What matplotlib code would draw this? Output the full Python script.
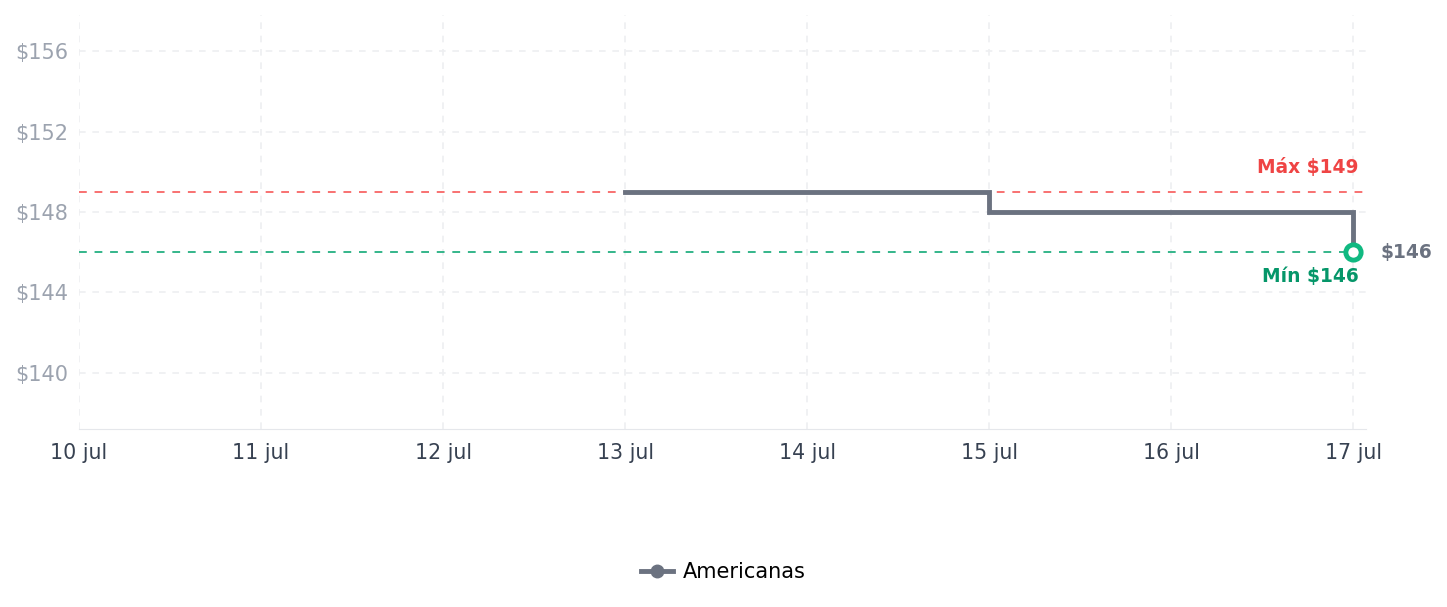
import numpy as np
import matplotlib.pyplot as plt

# datos
dias = ["10 jul", "11 jul", "12 jul", "13 jul", "14 jul", "15 jul", "16 jul", "17 jul"]
serie_x = [3, 5, 7]          # indice de dia
serie_precio = [149, 148, 146]
precio_max = 149
precio_min = 146
yticks = [140, 144, 148, 152, 156]

gris = "#6b7280"
rojo = "#ef4444"
verde = "#059669"

fig = plt.figure(figsize=(14.47, 6.07), dpi=100)
ax = fig.add_axes([79/1447, 1-429/607, (1366-79)/1447, (429-15)/607])

# lineas max / min
ax.axhline(precio_max, color="#f87171", lw=1.4, ls=(0, (4, 4)), zorder=2)
ax.axhline(precio_min, color="#34b58a", lw=1.4, ls=(0, (4, 4)), zorder=2)

# serie
ax.plot(serie_x, serie_precio, drawstyle="steps-post", color=gris, lw=3.5,
        solid_joinstyle="miter", zorder=3, label="Americanas",
        marker="o", markersize=9, markevery=[])
ax.plot(serie_x[-1], serie_precio[-1], "o", ms=11, mfc="white",
        mec="#10b981", mew=3.5, zorder=4)

# textos
ax.text(serie_x[-1] + 0.03, precio_max + 0.75, f"Máx ${precio_max}", color=rojo,
        fontsize=13.4, fontweight="bold", ha="right", va="bottom")
ax.text(serie_x[-1] + 0.03, precio_min - 0.75, f"Mín ${precio_min}", color=verde,
        fontsize=13.4, fontweight="bold", ha="right", va="top")
ax.text(serie_x[-1] + 0.15, serie_precio[-1], f"${serie_precio[-1]}", color=gris,
        fontsize=13.4, fontweight="bold", ha="left", va="center", clip_on=False)

ax.set_xlim(0, 7.07)
ax.set_ylim(137.2, 157.8)
ax.set_xticks(range(len(dias)))
ax.set_xticklabels(dias)
ax.set_yticks(yticks)
ax.set_yticklabels([f"${v}" for v in yticks])

ax.grid(True, color="#eeeff1", ls=(0, (4, 4)), lw=1.2)
ax.set_axisbelow(True)
for s in ["top", "right", "left"]:
    ax.spines[s].set_visible(False)
ax.spines["bottom"].set_color("#e5e7eb")
ax.tick_params(axis="both", length=0)
ax.tick_params(axis="y", labelcolor="#9ca3af", labelsize=15, pad=8)
ax.tick_params(axis="x", labelcolor="#374151", labelsize=14.8, pad=10)

fig.legend(loc="center", bbox_to_anchor=(0.5, 1-572/607), frameon=False,
           fontsize=15, handlelength=1.5, handletextpad=0.48)

fig.savefig("out.png", dpi=100)
